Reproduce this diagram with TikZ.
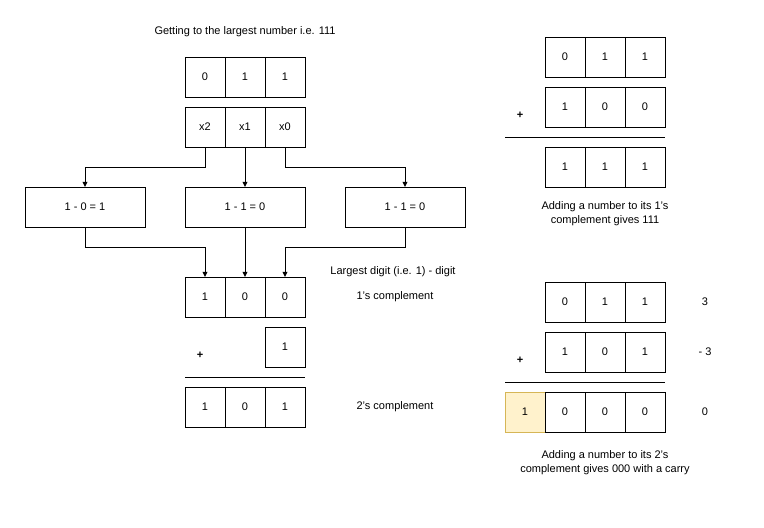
\documentclass[tikz,border=0pt]{standalone}
\usepackage{fontspec}
\setmainfont{Liberation Sans}
\usetikzlibrary{arrows.meta}
\definecolor{carryfill}{HTML}{FFF2CC}
\definecolor{carrydraw}{HTML}{D6B656}
\tikzset{
    cell/.style={draw, minimum width=40pt, minimum height=40pt, inner sep=0pt},
    wide/.style={draw, minimum width=120pt, minimum height=40pt, inner sep=0pt},
    label/.style={align=center, inner sep=0pt},
    flow/.style={-{Triangle[length=5pt,width=5pt]}}
}
\begin{document}
\begin{tikzpicture}[x=1pt, y=-1pt, font=\fontsize{11}{14}\selectfont]
    \useasboundingbox (0,0) rectangle (764,528);

    % left column
    \node[label] (title) at (245,32) {Getting to the largest number i.e. 111};
    \foreach \v [count=\i] in {0,1,1}
        \node[cell] (n\i) at (165 + \i * 40, 77) {\v};
    \foreach \v [count=\i] in {x2,x1,x0}
        \node[cell] (x\i) at (165 + \i * 40, 127) {\v};
    \node[wide] (s1) at (85, 207) {1 - 0 = 1};
    \node[wide] (s2) at (245, 207) {1 - 1 = 0};
    \node[wide] (s3) at (405, 207) {1 - 1 = 0};
    \foreach \v [count=\i] in {1,0,0}
        \node[cell] (c\i) at (165 + \i * 40, 297) {\v};
    \node[cell] (one) at (285, 347) {1};
    \foreach \v [count=\i] in {1,0,1}
        \node[cell] (t\i) at (165 + \i * 40, 407) {\v};

    \draw[flow] (x1.south) |- (85,167) -- (s1.north);
    \draw[flow] (x2.south) -- (s2.north);
    \draw[flow] (x3.south) |- (405,167) -- (s3.north);
    \draw[flow] (s1.south) |- (205,247) -- (c1.north);
    \draw[flow] (s2.south) -- (c2.north);
    \draw[flow] (s3.south) |- (285,247) -- (c3.north);

    \node[label] (hint) at (393,272) {Largest digit (i.e. 1) - digit};
    \node[label] (ones) at (395,297) {1's complement};
    \node[label] (plusa) at (200,355) {\textbf{+}};
    \coordinate (la) at (185,377);
    \coordinate (lb) at (305,377);
    \draw (la) -- (lb);
    \node[label] (twos) at (395,407) {2's complement};

    % right column, 1's complement sum
    \foreach \v [count=\i] in {0,1,1}
        \node[cell] (p\i) at (525 + \i * 40, 57) {\v};
    \foreach \v [count=\i] in {1,0,0}
        \node[cell] (q\i) at (525 + \i * 40, 107) {\v};
    \node[label] (plusb) at (520,115) {\textbf{+}};
    \coordinate (lc) at (505,137);
    \coordinate (ld) at (665,137);
    \draw (lc) -- (ld);
    \foreach \v [count=\i] in {1,1,1}
        \node[cell] (r\i) at (525 + \i * 40, 167) {\v};
    \node[label] (capa) at (605,214) {Adding a number to its 1's\\complement gives 111};

    % right column, 2's complement sum
    \foreach \v [count=\i] in {0,1,1}
        \node[cell] (u\i) at (525 + \i * 40, 302) {\v};
    \foreach \v [count=\i] in {1,0,1}
        \node[cell] (v\i) at (525 + \i * 40, 352) {\v};
    \node[label] (plusc) at (520,360) {\textbf{+}};
    \coordinate (le) at (505,382);
    \coordinate (lf) at (665,382);
    \draw (le) -- (lf);
    \node[cell, fill=carryfill, draw=carrydraw] (w0) at (525, 412) {1};
    \foreach \v [count=\i] in {0,0,0}
        \node[cell] (w\i) at (525 + \i * 40, 412) {\v};
    \node[label] (three) at (705,302) {3};
    \node[label] (minus) at (705,352) {- 3};
    \node[label] (zero) at (705,412) {0};
    \node[label] (capb) at (605,463) {Adding a number to its 2's\\complement gives 000 with a carry};
\end{tikzpicture}
\end{document}
